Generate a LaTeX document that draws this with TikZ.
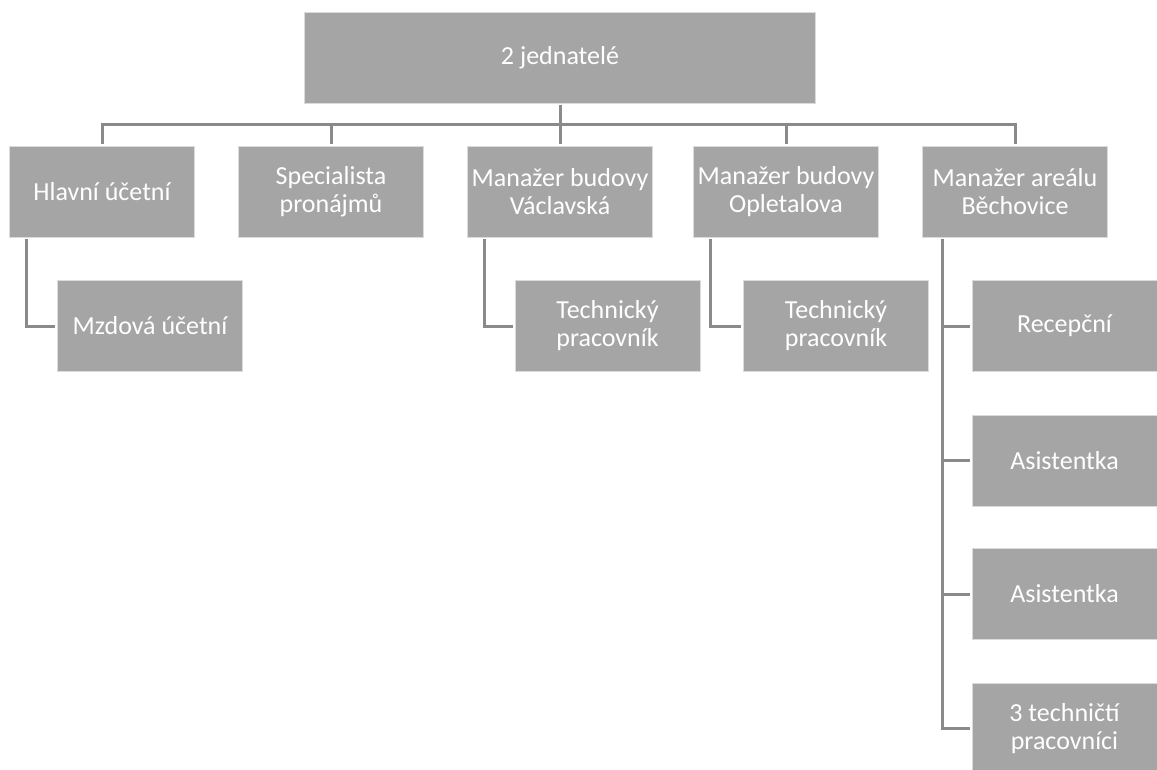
\documentclass[tikz,border=0pt]{standalone}
\usepackage{fontspec}
\setmainfont{Carlito}
\definecolor{boxgray}{HTML}{A5A5A5}
\definecolor{linegray}{HTML}{8A8A8A}
\begin{document}
\begin{tikzpicture}[x=1pt, y=-1pt, line join=miter,
	box/.style={fill=boxgray, draw=white!60!boxgray, line width=0.8pt, text=white, align=center, inner sep=0pt,
		minimum width=185pt, minimum height=91pt, font=\fontsize{26}{28}\selectfont},
	conn/.style={draw=linegray, line width=3pt, shorten >=2pt}]
	\useasboundingbox (0,0) rectangle (1157,769);
	\def\ya{191.5} %hang 2
	\def\yb{326} %hang 3
	%Vedeni
	\node[box, minimum width=511pt] (jed) at (560,57.5) {2 jednatelé};
	%Hang 2
	\node[box] (hu) at (102,\ya) {Hlavní účetní};
	\node[box] (sp) at (331,\ya) {Specialista\\pronájmů};
	\node[box] (mv) at (560,\ya) {Manažer budovy\\Václavská};
	\node[box] (mo) at (786,\ya) {Manažer budovy\\Opletalova};
	\node[box] (ma) at (1015,\ya) {Manažer areálu\\Běchovice};
	%Hang 3
	\node[box] (mu) at (150,\yb) {Mzdová účetní};
	\node[box] (tv) at (607.5,\yb) {Technický\\pracovník};
	\node[box] (to) at (836,\yb) {Technický\\pracovník};
	%Areal Bechovice
	\node[box] (re) at (1064.5,\yb) {Recepční};
	\node[box] (as1) at (1064.5,460.5) {Asistentka};
	\node[box] (as2) at (1064.5,594) {Asistentka};
	\node[box] (tp) at (1064.5,728.5) {3 techničtí\\pracovníci};
	%Spojnice
	\coordinate (bus) at (560,124);
	\draw[conn, shorten <=2pt, shorten >=0pt] (jed.south) -- (bus);
	\foreach \n in {hu,sp,mv,mo,ma}
	\draw[conn] (bus) -| (\n.north);
	\draw[conn, shorten <=2pt] ([xshift=17pt]hu.south west) |- (mu.west);
	\draw[conn, shorten <=2pt] ([xshift=17pt]mv.south west) |- (tv.west);
	\draw[conn, shorten <=2pt] ([xshift=17pt]mo.south west) |- (to.west);
	\foreach \n in {re,as1,as2,tp}
	\draw[conn, shorten <=2pt] ([xshift=20pt]ma.south west) |- (\n.west);
\end{tikzpicture}
\end{document}
